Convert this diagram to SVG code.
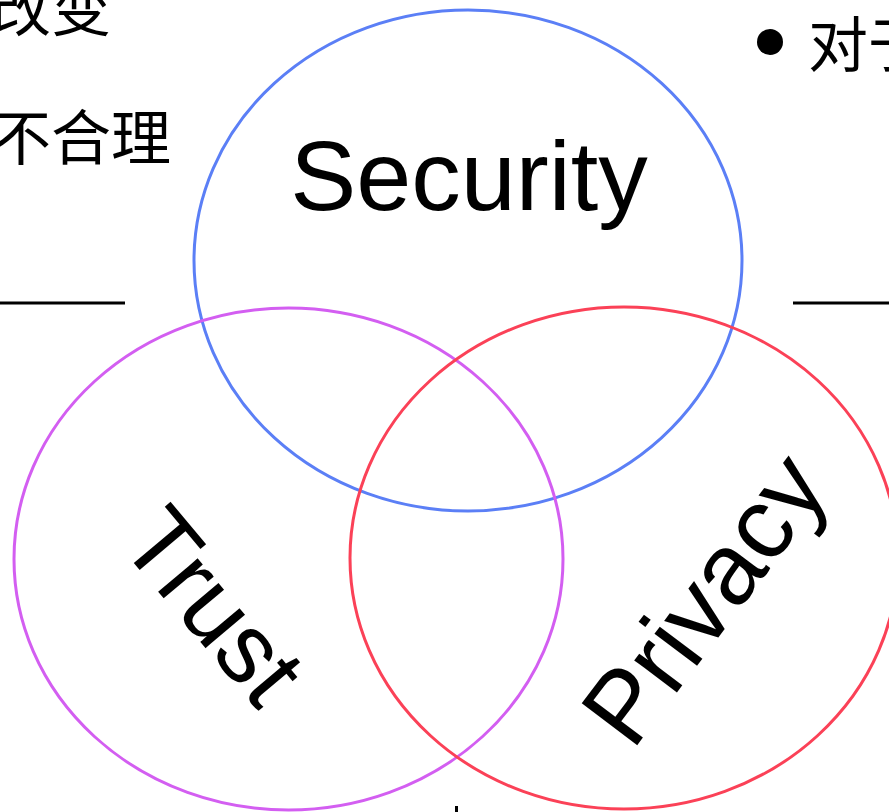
<svg xmlns="http://www.w3.org/2000/svg" width="889" height="812" viewBox="0 0 889 812">
<style>
.lbl{font-family:"Liberation Sans",Arial,sans-serif;fill:#000}
.cjk{font-family:"Noto Sans CJK SC","Noto Sans CJK JP",sans-serif;font-size:60px;fill:#000}
.ring{fill:none;stroke-width:3}
</style>
<rect width="889" height="812" fill="#fff"/>
<g id="bg-text">
<text class="cjk" x="-9" y="31">改变</text>
<text class="cjk" x="-9" y="160">不合理</text>
<text class="cjk" x="808" y="67">对于</text>
<circle cx="770" cy="42" r="13" fill="#000"/>
<line x1="0" y1="303" x2="125" y2="303" stroke="#000" stroke-width="3"/>
<line x1="793" y1="303" x2="889" y2="303" stroke="#000" stroke-width="3"/>
<rect x="455" y="806" width="3" height="6" fill="#000"/>
</g>
<g id="connectors"></g>
<g id="security">
<ellipse class="ring" cx="468" cy="260.5" rx="274" ry="250.5" stroke="#5b7ff6"/>
<text class="lbl" x="469" y="210" font-size="99" text-anchor="middle">Security</text>
</g>
<g id="trust">
<ellipse class="ring" cx="288.5" cy="559" rx="274.5" ry="251" stroke="#d35ef1"/>
<text class="lbl" transform="translate(215,605) rotate(50)" x="0" y="35" font-size="98" text-anchor="middle">Trust</text>
</g>
<g id="privacy">
<ellipse class="ring" cx="624" cy="558" rx="274" ry="251" stroke="#fb4157"/>
<text class="lbl" transform="translate(711,604) rotate(-53)" x="0" y="26" font-size="101" text-anchor="middle">Privacy</text>
</g>
</svg>
